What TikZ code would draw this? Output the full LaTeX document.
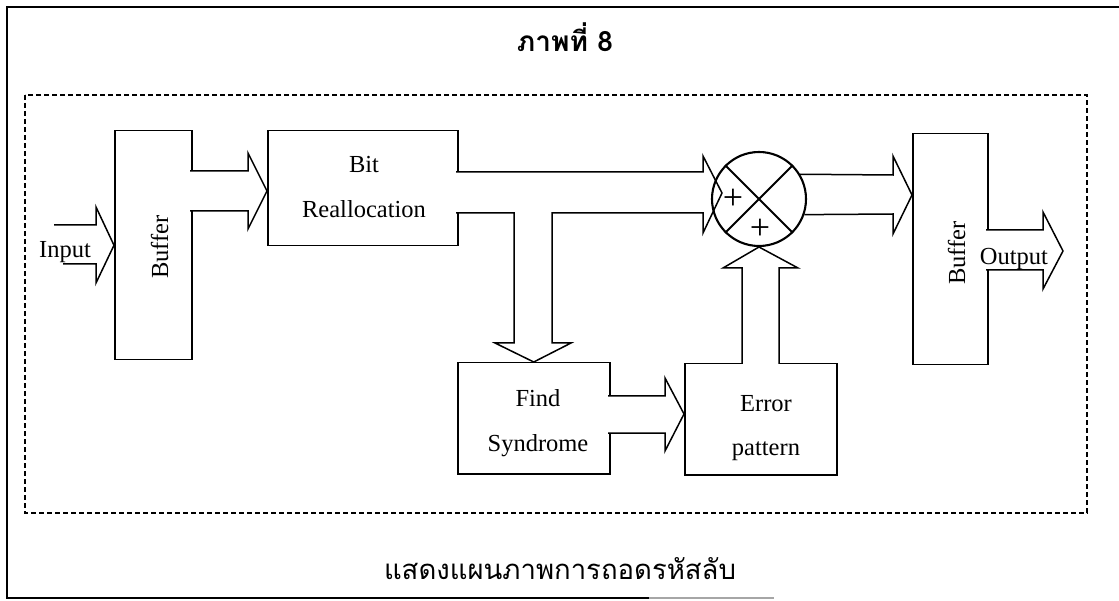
\documentclass[tikz,border=0pt]{standalone}
\usepackage{fontspec}
\setmainfont{Liberation Serif}
\newfontfamily\thaifont[Script=Thai]{Loma}
\usetikzlibrary{calc}

\begin{document}
\begin{tikzpicture}[x=1pt, y=-1pt,
  blk/.style={draw, line width=1.5pt, inner sep=0pt, anchor=north west},
  fat/.style={draw, line width=1.5pt, fill=white, line join=miter},
  txt/.style={font=\fontsize{24.5}{44.5}\selectfont, inner sep=0pt},
  plus/.style={font=\fontsize{36}{36}\selectfont, inner sep=0pt}]
  \useasboundingbox (0,0) rectangle (1119,601);

  % frame, title and caption
  \draw[line width=2.4pt] (1119,7) -- (7,7) -- (7,598) -- (649,598);
  \draw[line width=2pt, black!35] (649,598) -- (774,598);
  \node[font=\thaifont\bfseries\fontsize{28}{28}\selectfont, anchor=base] (title) at (565,52) {ภาพที่ 8};
  \draw[line width=1.2pt, dash pattern=on 5pt off 3pt] (25,95) rectangle (1087,513);
  \node[font=\thaifont\fontsize{27.5}{27.5}\selectfont, anchor=base] (caption) at (560,579) {แสดงแผนภาพการถอดรหัสลับ};

  % blocks
  \node[blk, minimum width=77, minimum height=229] (bufin) at (114,130) {};
  \node[blk, minimum width=190, minimum height=115] (bit) at (267,130) {};
  \node[blk, minimum width=152, minimum height=111] (find) at (457,362) {};
  \node[blk, minimum width=152, minimum height=111] (err) at (684,363) {};
  \node[blk, minimum width=75, minimum height=231] (bufout) at (912,133) {};

  % block arrows
  \coordinate (inA) at (54,225);
  \coordinate (inB) at (63,264);
  \draw[fat, fill=none] (inA) -- (96,225) -- (96,207) -- (bufin.west) -- (96,283) -- (96,264) -- (inB);
  \draw[fat] (190,171) -- (248,171) -- (248,153) -- (bit.west |- 0,191) -- (248,229) -- (248,211) -- (190,211);
  \draw[fat] (456,172) -- (703,172) -- (703,156) -- (722,193) -- (703,233) -- (703,213)
    -- (552,213) -- (552,343) -- (571,343) -- (find.north) -- (495,343) -- (514,343) -- (514,213) -- (456,213);
  \draw[fat] (608,396) -- (665,396) -- (665,378) -- (err.west |- 0,414) -- (665,451) -- (665,433) -- (608,433);
  \draw[fat] (742,364) -- (742,268) -- (723,268) -- (759,247) -- (798,268) -- (779,268) -- (779,364);
  \draw[fat] (986,230) -- (1043,230) -- (1043,212) -- (1063,251) -- (1043,289) -- (1043,270) -- (986,270);

  % adder
  \node[circle, draw, line width=2.1pt, minimum size=94, inner sep=0pt] (xor) at (759,199) {};
  \draw[line width=2pt] (xor.135) -- (xor.-45);
  \draw[line width=2pt] (xor.45) -- (xor.-135);
  \draw[fat, fill=none] (xor.31) -- (893,175) -- (893,156) -- (bufout.west |- 0,195) -- (893,234) -- (893,214) -- (xor.-19);
  \node[plus] (p1) at (733,199) {+};
  \node[plus] (p2) at (760,229) {+};

  % labels
  \node[txt, rotate=90, anchor=base] (bufin-t) at (168,247) {Buffer};
  \node[txt, rotate=90, anchor=base] (bufout-t) at (965,253) {Buffer};
  \node[txt, anchor=base] (in-t) at (65,258) {Input};
  \node[txt, anchor=base] (out-t) at (1014,265) {Output};
  \node[txt, align=center] (bit-t) at (364,187) {Bit\\Reallocation};
  \node[txt, align=center] (find-t) at (538,423) {Find\\Syndrome};
  \node[txt, align=center] (err-t) at (766,428) {Error\\pattern};
\end{tikzpicture}
\end{document}
